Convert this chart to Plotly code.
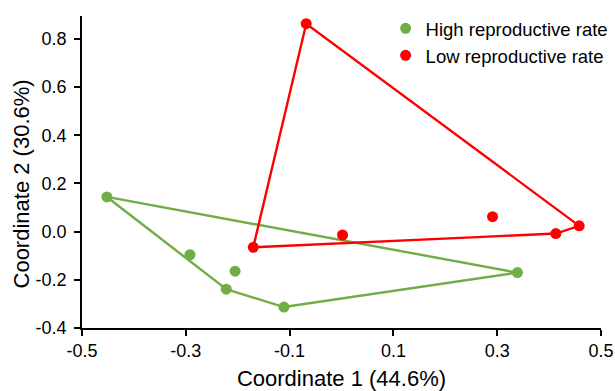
import plotly.graph_objects as go

# Data
high_x = [-0.452, -0.292, -0.205, -0.222, -0.111, 0.339]
high_y = [0.144, -0.096, -0.164, -0.239, -0.313, -0.170]
high_hull = [0, 3, 4, 5, 0]  # indices of convex hull, closed

low_x = [-0.170, -0.068, 0.458, 0.413, 0.291, 0.002]
low_y = [-0.065, 0.863, 0.024, -0.008, 0.062, -0.014]
low_hull = [0, 1, 2, 3, 0]

x_ticks = [-0.5, -0.3, -0.1, 0.1, 0.3, 0.5]
x_ticktext = ["-0.5", "-0.3", "-0.1", "0.1", "0.3", "0.5"]
y_ticks = [-0.4, -0.2, 0.0, 0.2, 0.4, 0.6, 0.8]
y_ticktext = ["-0.4", "-0.2", "0.0", "0.2", "0.4", "0.6", "0.8"]

GREEN = "#70AD47"
RED = "#FF0000"

fig = go.Figure()

for xs, ys, hull, color, name in [
    (high_x, high_y, high_hull, GREEN, "High reproductive rate"),
    (low_x, low_y, low_hull, RED, "Low reproductive rate"),
]:
    fig.add_trace(go.Scatter(
        x=[xs[i] for i in hull], y=[ys[i] for i in hull],
        mode="lines", line=dict(color=color, width=2.4),
        showlegend=False, hoverinfo="skip"))
    fig.add_trace(go.Scatter(
        x=xs, y=ys, mode="markers", name=name,
        marker=dict(color=color, size=11)))

font = "Liberation Sans, Arial, sans-serif"
fig.update_layout(
    width=615, height=391,
    margin=dict(l=82, r=14, t=16, b=63, autoexpand=False),
    plot_bgcolor="white", paper_bgcolor="white",
    font=dict(family=font, size=18, color="black"),
    showlegend=True,
    legend=dict(x=0.585, y=1.02, xanchor="left", yanchor="top",
                bgcolor="rgba(0,0,0,0)", font=dict(size=18.5),
                itemwidth=30, tracegroupgap=0),
    xaxis=dict(range=[-0.5, 0.5], tickvals=x_ticks, ticktext=x_ticktext,
               showgrid=False, zeroline=False, showline=True,
               linecolor="black", linewidth=1.6, ticks="outside",
               ticklen=6, tickwidth=1.6, tickcolor="black",
               automargin=False,
               title=dict(text="Coordinate 1 (44.6%)", font=dict(size=22),
                          standoff=12)),
    yaxis=dict(range=[-0.4, 0.895], tickvals=y_ticks, ticktext=y_ticktext,
               showgrid=False, zeroline=False, showline=True,
               linecolor="black", linewidth=1.6, ticks="outside",
               ticklen=6, tickwidth=1.6, tickcolor="black",
               ticklabelstandoff=4, automargin=False),
    annotations=[dict(text="Coordinate 2 (30.6%)", textangle=-90,
                      xref="paper", yref="paper", x=-0.1166, y=0.4615,
                      xanchor="center", yanchor="middle", showarrow=False,
                      font=dict(size=22))],
)

fig.write_html("out.html")
